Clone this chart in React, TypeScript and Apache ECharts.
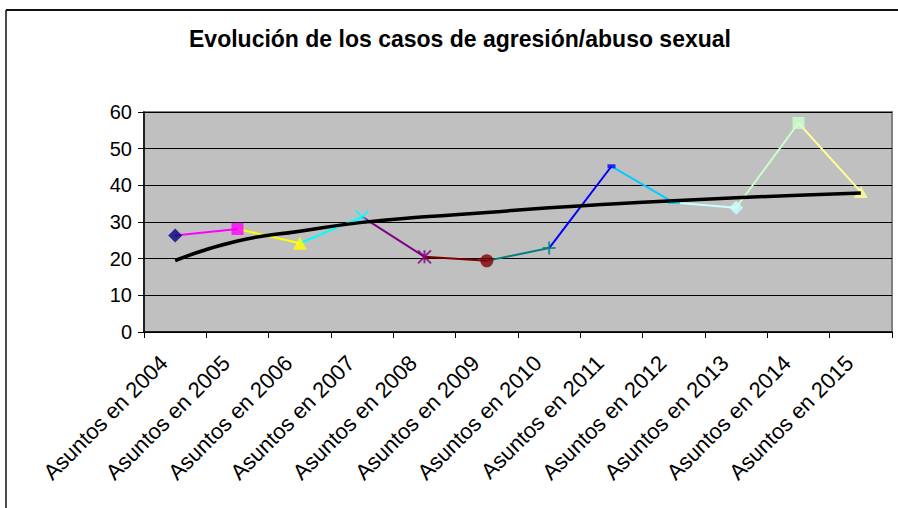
import React, { useEffect, useRef } from "react";
import * as echarts from "echarts";

const categories = [
  "Asuntos en 2004",
  "Asuntos en 2005",
  "Asuntos en 2006",
  "Asuntos en 2007",
  "Asuntos en 2008",
  "Asuntos en 2009",
  "Asuntos en 2010",
  "Asuntos en 2011",
  "Asuntos en 2012",
  "Asuntos en 2013",
  "Asuntos en 2014",
  "Asuntos en 2015",
];
const casos = [26.3, 28.1, 24.2, 31.4, 20.5, 19.4, 22.9, 45.2, 35.3, 33.9, 57.0, 38.2];
const tendencia = [19.5, 24.8, 27.5, 29.9, 31.4, 32.6, 33.9, 34.9, 35.8, 36.6, 37.3, 37.9];
const colores = [
  "#000080", "#FF00FF", "#FFFF00", "#00FFFF", "#800080", "#800000",
  "#008080", "#0000FF", "#00CCFF", "#CCFFFF", "#CCFFCC", "#FFFF99",
];
const yTicks = [0, 10, 20, 30, 40, 50, 60];
const titulo = "Evolución de los casos de agresión/abuso sexual";

const X_PATH = "path://M0 0L10 10M10 0L0 10";
const STAR_PATH = "path://M0 0L10 10M10 0L0 10M5 0L5 10";
const PLUS_PATH = "path://M5 0L5 10M0 5L10 5";

const simbolos = [
  "diamond", "rect", "triangle", X_PATH, STAR_PATH, "circle",
  PLUS_PATH, "rect", "rect", "diamond", "rect", "triangle",
];
const tamanos: any[] = [
  14, 12, [14, 13], 13, 13, 13, 13, [8, 4], [12, 3], 14, 12, [14, 12],
];
const trazos = [false, false, false, true, true, false, true, false, false, false, false, false];

const FONT = "Arial, 'Liberation Sans', sans-serif";

export default function App() {
  const ref = useRef<HTMLDivElement>(null);
  useEffect(() => {
    if (!ref.current) return;
    const chart = echarts.init(ref.current, undefined, { renderer: "svg" });

    const segmentSeries: any[] = [];
    for (let i = 1; i < casos.length; i++) {
      const data = casos.map((v, j) => (j === i - 1 || j === i ? v : "-"));
      segmentSeries.push({
        type: "line",
        data,
        showSymbol: false,
        symbol: "none",
        lineStyle: { color: colores[i], width: 2 },
        z: 2,
        silent: true,
      });
    }

    const markerData = casos.map((v, i) => ({
      value: [i, v],
      symbol: simbolos[i],
      symbolSize: tamanos[i],
      itemStyle: trazos[i]
        ? { color: colores[i], borderColor: colores[i], borderWidth: 2 }
        : { color: colores[i] },
    }));

    chart.setOption({
      animation: false,
      backgroundColor: "#ffffff",
      grid: {
        left: 144,
        right: 6,
        top: 112,
        bottom: 176,
        containLabel: false,
        show: true,
        backgroundColor: "#C0C0C0",
        borderColor: "#808080",
        borderWidth: 2,
      },
      xAxis: {
        type: "category",
        data: categories,
        boundaryGap: true,
        axisLine: { show: true, lineStyle: { color: "#000", width: 1.5 } },
        axisTick: { show: true, alignWithLabel: false, length: 6, lineStyle: { color: "#000" } },
        axisLabel: {
          rotate: 45,
          interval: 0,
          color: "#000",
          fontSize: 22,
          fontFamily: FONT,
          margin: 16,
          padding: [0, 16, 0, 0],
        },
        splitLine: { show: false },
      },
      yAxis: {
        type: "value",
        min: yTicks[0],
        max: yTicks[yTicks.length - 1],
        interval: 10,
        axisLine: { show: true, lineStyle: { color: "#000", width: 1.5 } },
        axisTick: { show: true, length: 6, lineStyle: { color: "#000" } },
        axisLabel: { color: "#000", fontSize: 20, fontFamily: FONT, margin: 12 },
        splitLine: { show: true, lineStyle: { color: "#000", width: 1 } },
      },
      series: [
        ...segmentSeries,
        {
          type: "scatter",
          data: markerData,
          z: 3,
          silent: true,
        },
        {
          type: "line",
          data: tendencia,
          smooth: true,
          showSymbol: false,
          symbol: "none",
          lineStyle: { color: "#000", width: 3.5 },
          z: 4,
          silent: true,
        },
      ],
      graphic: [
        {
          type: "line",
          shape: { x1: 6, y1: 10, x2: 898, y2: 10 },
          style: { stroke: "#111", lineWidth: 2 },
        },
        {
          type: "line",
          shape: { x1: 6, y1: 10, x2: 6, y2: 508 },
          style: { stroke: "#111", lineWidth: 1.5 },
        },
        {
          type: "text",
          x: 460,
          y: 39,
          style: {
            text: titulo,
            textAlign: "center",
            textVerticalAlign: "middle",
            fontSize: 23,
            fontWeight: "bold",
            fontFamily: FONT,
            fill: "#000",
          },
        },
      ],
    });
    return () => chart.dispose();
  }, []);
  return (
    <div
      ref={ref}
      style={{ position: "fixed", left: 0, top: 0, width: 898, height: 508 }}
    />
  );
}
